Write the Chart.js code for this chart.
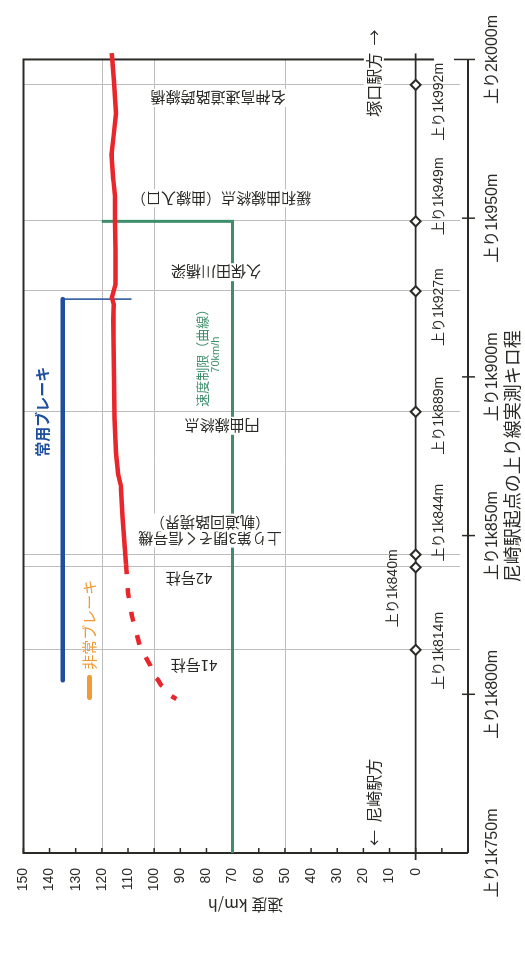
<!DOCTYPE html>
<html>
<head>
<meta charset="utf-8">
<script src="https://cdn.jsdelivr.net/npm/chart.js@4.4.1/dist/chart.umd.min.js"></script>
<style>
  html, body { margin: 0; padding: 0; background: #fff; width: 525px; height: 961px; overflow: hidden; }
  /* the chart is laid out landscape and turned a quarter turn to stand upright on the page */
  #wrap { position: absolute; left: 0; top: 0; width: 961px; height: 525px;
          transform-origin: 0 0; transform: translate(0, 961px) rotate(-90deg); }
</style>
</head>
<body>
<div id="wrap"><canvas id="c" width="961" height="525"></canvas></div>
<script>
// ---- axes ----
const distTicks  = [1750, 1800, 1850, 1900, 1950, 2000];          // m from Amagasaki
const speedTicks = [-20, -10, 0, 10, 20, 30, 40, 50, 60, 70, 80, 90, 100, 110, 120, 130, 140, 150];
const gridSpeeds = [50, 100, 120];

// ---- kilometre posts and landmarks ----
const kmPosts       = [1814, 1840, 1844, 1889, 1927, 1949, 1992];
const kmPostLabels  = ['上り1k814m', '上り1k840m', '上り1k844m', '上り1k889m', '上り1k927m', '上り1k949m', '上り1k992m'];
const landmarkNames = [['41号柱'], ['42号柱'], ['上り第3閉そく信号機', '（軌道回路境界）'],
                       ['円曲線終点'], ['久保田川橋梁'], ['緩和曲線終点（曲線入口）'], ['名神高速道路跨線橋']];

// ---- recorded speed (solid) ----
const recDist  = [2002, 1993, 1983, 1976, 1970, 1962, 1957, 1949, 1940, 1929, 1925, 1923, 1918, 1900, 1887, 1876, 1869, 1866, 1856, 1841];
const recSpeed = [116.2, 115.4, 114.6, 115.5, 116.3, 115.6, 115.0, 115.0, 114.8, 114.8, 116.2, 115.5, 115.6, 115.4, 115.2, 114.6, 113.7, 112.8, 112.1, 110.8];

// ---- estimated speed after the recorder section (dashed) ----
const estDist  = [1841, 1832, 1825, 1815, 1809, 1806, 1804.5, 1803, 1801.5, 1800, 1798.5];
const estSpeed = [110.8, 110.0, 108.6, 105.4, 101.4, 100.5, 98.5, 97.5, 95.5, 94.5, 91.5];

// ---- speed limit on the curve ----
const limitDist  = [1750, 1949, 1949];
const limitSpeed = [70, 70, 120];

// ---- service brake span ----
const brakeDist  = [1804.4, 1924.5];
const brakeSpeed = [135, 135];
const brakeMarkDist  = [1924.5, 1924.5];
const brakeMarkSpeed = [135, 108.7];

// ---- emergency brake marker ----
const emerDist  = [1799, 1805.3];
const emerSpeed = [124.7, 124.7];

const pts = (xs, ys) => xs.map((x, i) => ({ x, y: ys[i] }));

// ---- styling ----
const LATIN = "'Liberation Sans', 'Noto Sans CJK JP', sans-serif";
const JP    = "'Noto Sans CJK JP', sans-serif";
const INK   = '#2a2a26';
const GRID  = '#bdbdbd';
const RED   = '#e8262b';
const BLUE  = '#1f4f9c';
const GREEN = '#3e8e6c';
const ORANGE = '#f29a35';

// label placement beside each post (px along the distance axis), in post order
const postLabelShift = [-1, -21, 32, -4, -16, 25, -17];
const postLabelSide  = [1, -1, 1, 1, 1, 1, 1];      // 1: below the post line, -1: above
const landmarkShift  = [-16, -11, 24, -14, 19, 23, -13];
const landmarkCenter = [194, 189, 210, 222, 216, 221, 218];

function kmText(v) {
  const k = Math.floor(v / 1000), m = String(v % 1000).padStart(3, '0');
  return '上り' + k + 'k' + m + 'm';
}

function boxText(ctx, text, x, y, font, color, bg) {
  ctx.font = font;
  const w = ctx.measureText(text).width;
  if (bg) { ctx.fillStyle = '#fff'; ctx.fillRect(x - w / 2 - 2, y - 9, w + 4, 18); }
  ctx.fillStyle = color;
  ctx.textAlign = 'center';
  ctx.textBaseline = 'middle';
  ctx.fillText(text, x, y);
}

const decor = {
  id: 'decor',
  beforeDatasetsDraw(chart) {
    const { ctx, chartArea: a, scales: { x, y } } = chart;
    ctx.save();
    // light grid
    ctx.strokeStyle = GRID; ctx.lineWidth = 1;
    gridSpeeds.forEach(s => {
      const py = Math.round(y.getPixelForValue(s)) + 0.5;
      ctx.beginPath(); ctx.moveTo(a.left, py); ctx.lineTo(a.right, py); ctx.stroke();
    });
    kmPosts.forEach(d => {
      const px = Math.round(x.getPixelForValue(d)) + 0.5;
      ctx.beginPath(); ctx.moveTo(px, a.top); ctx.lineTo(px, y.getPixelForValue(-17)); ctx.stroke();
    });
    // frame
    ctx.strokeStyle = INK; ctx.lineWidth = 2;
    ctx.beginPath();
    ctx.moveTo(a.left, a.bottom); ctx.lineTo(a.left, a.top);
    ctx.lineTo(a.right, a.top); ctx.lineTo(a.right, y.getPixelForValue(-7));
    ctx.moveTo(a.left, a.bottom); ctx.lineTo(a.right, a.bottom);
    ctx.stroke();
    // speed ticks, pointing inward
    ctx.lineWidth = 1.5;
    y.ticks.forEach(t => {
      if (t.value <= -20) return;
      const py = y.getPixelForValue(t.value);
      ctx.beginPath(); ctx.moveTo(a.left, py); ctx.lineTo(a.left + 5, py); ctx.stroke();
    });
    // distance ticks across the axis
    distTicks.forEach(d => {
      if (d === 1750) return;
      const px = x.getPixelForValue(d);
      ctx.beginPath(); ctx.moveTo(px, a.bottom - (d === 2000 ? 14 : 6)); ctx.lineTo(px, a.bottom + 7); ctx.stroke();
    });
    // kilometre post line at 0 km/h
    const p0 = y.getPixelForValue(0);
    ctx.lineWidth = 1.8;
    ctx.beginPath(); ctx.moveTo(a.left - 7, p0); ctx.lineTo(a.right + 6, p0); ctx.stroke();
    ctx.restore();
  },
  afterDatasetsDraw(chart) {
    const { ctx, chartArea: a, scales: { x, y } } = chart;
    ctx.save();
    const p0 = y.getPixelForValue(0);
    // post labels
    kmPosts.forEach((d, i) => {
      const px = x.getPixelForValue(d) + postLabelShift[i];
      const py = p0 + postLabelSide[i] * 23;
      boxText(ctx, kmPostLabels[i], px, py, '14px ' + LATIN, INK, false);
    });
    // landmark names, set vertically
    kmPosts.forEach((d, i) => {
      const lines = landmarkNames[i];
      const cx = x.getPixelForValue(d) + landmarkShift[i];
      ctx.save();
      ctx.translate(cx, landmarkCenter[i]);
      ctx.rotate(-Math.PI / 2);
      lines.forEach((ln, j) => {
        boxText(ctx, ln, 0, (j - (lines.length - 1) / 2) * 16, '15px ' + JP, INK, true);
      });
      ctx.restore();
    });
    // speed limit note
    const lx = x.getPixelForValue(1907);
    boxText(ctx, '速度制限（曲線）', lx, y.getPixelForValue(81.5), '13px ' + JP, GREEN, false);
    boxText(ctx, '70km/h', lx, y.getPixelForValue(76.5), '11px ' + LATIN, GREEN, false);
    // brake notes
    boxText(ctx, '常用ブレーキ', x.getPixelForValue(1889), y.getPixelForValue(142.8), 'bold 15px ' + JP, BLUE, false);
    ctx.font = '15px ' + JP; ctx.fillStyle = ORANGE; ctx.textAlign = 'left'; ctx.textBaseline = 'middle';
    ctx.fillText('非常ブレーキ', x.getPixelForValue(1807.7), y.getPixelForValue(124.7));
    // station directions
    ctx.font = '16px ' + JP; ctx.fillStyle = INK;
    const sy = y.getPixelForValue(16);
    ctx.textAlign = 'left';
    ctx.fillText('←  尼崎駅方', a.left + 7, sy);
    ctx.textAlign = 'right';
    const tw = ctx.measureText('塚口駅方').width;
    ctx.fillStyle = '#fff'; ctx.fillRect(a.right - tw - 2, sy - 10, tw + 4, 20);
    ctx.fillStyle = INK;
    ctx.fillText('塚口駅方  →', a.right + 30, sy);
    ctx.restore();
  }
};

const ctx = document.getElementById('c').getContext('2d');
new Chart(ctx, {
  type: 'scatter',
  data: {
    datasets: [
      { data: pts(limitDist, limitSpeed), showLine: true, borderColor: GREEN, borderWidth: 3, pointRadius: 0, order: 5 },
      { data: pts(brakeDist, brakeSpeed), showLine: true, borderColor: BLUE, borderWidth: 4.5, borderCapStyle: 'round', pointRadius: 0, order: 4 },
      { data: pts(brakeMarkDist, brakeMarkSpeed), showLine: true, borderColor: BLUE, borderWidth: 1.5, pointRadius: 0, order: 4 },
      { data: pts(emerDist, emerSpeed), showLine: true, borderColor: ORANGE, borderWidth: 5, borderCapStyle: 'round', pointRadius: 0, order: 4 },
      { data: pts(estDist, estSpeed), showLine: true, borderColor: RED, borderWidth: 4.5, borderDash: [10, 14], pointRadius: 0, order: 2 },
      { data: pts(recDist, recSpeed), showLine: true, borderColor: RED, borderWidth: 4.5, borderJoinStyle: 'round', pointRadius: 0, clip: false, order: 1 },
      { data: kmPosts.map(d => ({ x: d, y: 0 })), pointStyle: 'rectRot', pointRadius: 5, borderWidth: 2,
        borderColor: INK, backgroundColor: '#fff', clip: false, order: 0 }
    ]
  },
  options: {
    responsive: false,
    animation: false,
    layout: { padding: { left: 0, right: 49, top: 19, bottom: 0 } },
    plugins: { legend: { display: false }, tooltip: { enabled: false } },
    scales: {
      x: {
        type: 'linear', position: 'bottom', min: 1750, max: 2000,
        afterFit: s => { s.height = 57; },
        afterBuildTicks: s => { s.ticks = distTicks.map(v => ({ value: v })); },
        grid: { display: false, drawTicks: false },
        border: { display: false },
        ticks: { padding: 15, maxRotation: 0, autoSkip: false, color: INK,
                 font: { size: 16, family: LATIN }, callback: v => kmText(v) },
        title: { display: true, text: '尼崎駅起点の上り線実測キロ程', color: INK,
                 font: { size: 18, family: JP }, padding: { top: 0, bottom: 2 } }
      },
      y: {
        type: 'linear', min: -20, max: 150,
        afterFit: s => { s.width = 108; },
        afterBuildTicks: s => { s.ticks = speedTicks.map(v => ({ value: v })); },
        grid: { display: false, drawTicks: false },
        border: { display: false },
        ticks: { padding: 15, color: INK, font: { size: 14, family: LATIN },
                 callback: v => (v < 0 ? '' : String(v)) },
        title: { display: true, text: '速度 km/h', color: INK,
                 font: { size: 16, family: JP }, padding: { top: 46 } }
      }
    }
  },
  plugins: [decor]
});
</script>
</body>
</html>
